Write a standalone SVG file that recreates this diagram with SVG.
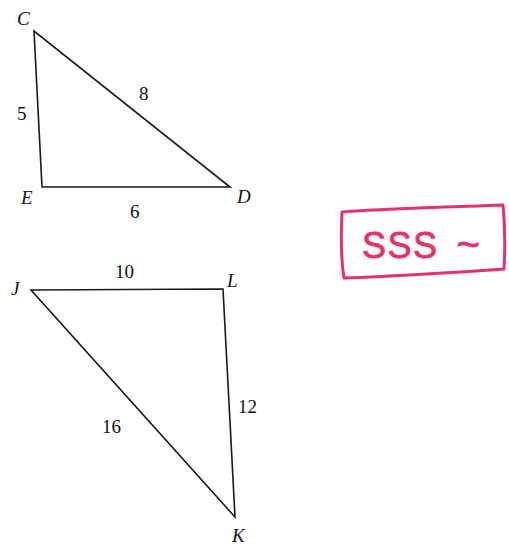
<svg xmlns="http://www.w3.org/2000/svg" width="509" height="546" viewBox="0 0 509 546">
<style>
.edge{fill:none;stroke:#1a1a1a;stroke-width:1.6;stroke-linejoin:miter}
.vtx{font-family:"Liberation Serif","Times New Roman",serif;font-style:italic;font-size:19px;fill:#111}
.len{font-family:"Liberation Serif","Times New Roman",serif;font-size:19px;fill:#111}
.ink{fill:none;stroke:#e5336a;stroke-width:3;stroke-linecap:round;stroke-linejoin:round}
.note{font-family:"Liberation Sans",Arial,sans-serif;font-size:36px;fill:#e5336a;stroke:#e5336a;stroke-width:0.8}
</style>
<rect width="509" height="546" fill="#ffffff"/>
<g id="triangle-CED">
<polygon class="edge" points="34,31 42,187 230,187"/>
<text class="vtx" x="17" y="25">C</text>
<text class="vtx" x="21" y="204">E</text>
<text class="vtx" x="237" y="203">D</text>
<text class="len" x="17" y="120">5</text>
<text class="len" x="139" y="100">8</text>
<text class="len" x="130" y="218">6</text>
</g>
<g id="triangle-JLK">
<polygon class="edge" points="31,290 223,289 235,517"/>
<text class="vtx" x="11" y="295">J</text>
<text class="vtx" x="227" y="287">L</text>
<text class="vtx" x="232" y="542">K</text>
<text class="len" x="115" y="278">10</text>
<text class="len" x="238" y="413">12</text>
<text class="len" x="102" y="433">16</text>
</g>
<g id="note-SSS">
<path class="ink" d="M342,212 C380,209 450,207 503,205 C505,225 505,250 504,269 C460,272 400,276 344,278 C341,260 341,232 342,212 Z"/>
<text class="note" x="362" y="258"><tspan letter-spacing="1.5">SSS</tspan><tspan font-size="40" dx="18">~</tspan></text>
</g>
</svg>
